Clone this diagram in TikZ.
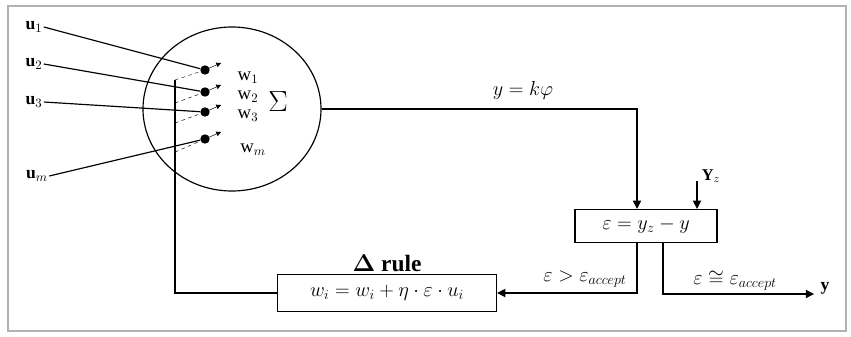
\documentclass[tikz,border=0pt]{standalone}
\usepackage{amsmath,amssymb}
\usepackage{fontspec}
\setmainfont{Liberation Serif}
\usetikzlibrary{arrows.meta,positioning,calc,shapes.geometric}

\begin{document}
\begin{tikzpicture}[x=0.03cm,y=-0.03cm,
  wire/.style={line width=1pt},
  arr/.style={-{Triangle[length=7pt,width=7pt]},line width=1pt},
  box/.style={draw,line width=1pt,align=center,inner sep=2pt},
  syn/.style={circle,fill=black,inner sep=0pt,minimum size=8pt},
  ulbl/.style={font=\fontsize{15}{17}\selectfont\bfseries,inner sep=1pt},
  wlbl/.style={font=\fontsize{16}{18}\selectfont,inner sep=1pt},
  cond/.style={font=\fontsize{18}{20}\selectfont,inner sep=1pt}
]
  \useasboundingbox (0,0) rectangle (851,336);
  \draw[gray!60,line width=0.7mm] (8,6) rectangle (846,331);

  % neuron
  \node[draw,wire,ellipse,minimum width=5.34cm,minimum height=4.92cm] (neuron) at (232,109) {};
  \node[font=\fontsize{24}{26}\selectfont] (sum) at (278,102) {$\Sigma$};

  % synapses with weights
  \foreach \n/\yy in {1/70,2/92,3/112,m/139}{
    \node[syn] (s\n) at (205,\yy) {};
    \draw[-{Triangle[length=4pt,width=4pt]},thin] (s\n.center) -- ++(16,-7);
  }
  \node[wlbl] (w1) at (248,78) {w$_1$};
  \node[wlbl] (w2) at (248,97) {w$_2$};
  \node[wlbl] (w3) at (248,116) {w$_3$};
  \node[wlbl] (wm) at (253,150) {w$_m$};

  % inputs
  \node[ulbl] (u1) at (34,27) {u$_1$};
  \node[ulbl] (u2) at (34,64) {u$_2$};
  \node[ulbl] (u3) at (34,102) {u$_3$};
  \node[ulbl] (um) at (37,176) {u$_m$};
  \draw[wire] (u1.east) -- (s1);
  \draw[wire] (u2.east) -- (s2);
  \draw[wire] (u3.east) -- (s3);
  \draw[wire] (um.east) -- (sm);

  % error block
  \node[box,minimum width=4.26cm,minimum height=0.99cm,font=\LARGE] (err) at (646,226) {$\varepsilon = y_z - y$};
  \node[ulbl,font=\fontsize{14}{16}\selectfont\bfseries] (yz) at (711,176) {Y$_z$};
  \coordinate (yzin) at (697,181);
  \draw[arr] (neuron.east) -| ($(err.north)+(-9,0)$);
  \node[font=\fontsize{16}{18}\selectfont] (ylab) at (523,90) {$y = k\varphi$};
  \draw[arr] (yzin) -- (yzin |- err.north);

  % delta rule block
  \node[box,minimum width=6.57cm,minimum height=1.11cm,font=\fontsize{17}{19}\selectfont] (rule) at (387,293) {$w_i = w_i + \eta \cdot \varepsilon \cdot u_i$};
  \node[font=\fontsize{20}{22}\selectfont\bfseries,above=-2pt of rule] (rulelab) {$\boldsymbol{\Delta}$ rule};
  \draw[arr] ($(err.south)+(-9,0)$) |- (rule.east);
  \node[cond] (gt) at (585,279) {$\varepsilon > \varepsilon_{accept}$};

  % output
  \coordinate (yend) at (814,294);
  \node[ulbl] (y) at (825,288) {y};
  \draw[arr] ($(err.south)+(17,0)$) |- (yend);
  \node[cond] (eq) at (735,281) {$\varepsilon \cong \varepsilon_{accept}$};

  % feedback to weights
  \coordinate (fbtop) at (175,80);
  \draw[wire] (rule.west) -| (fbtop);
  \draw[thin,dashed] (fbtop) -- (s1);
  \draw[thin,dashed] (175,103) -- (s2);
  \draw[thin,dashed] (175,123) -- (s3);
  \draw[thin,dashed] (175,152) -- (sm);
\end{tikzpicture}
\end{document}
